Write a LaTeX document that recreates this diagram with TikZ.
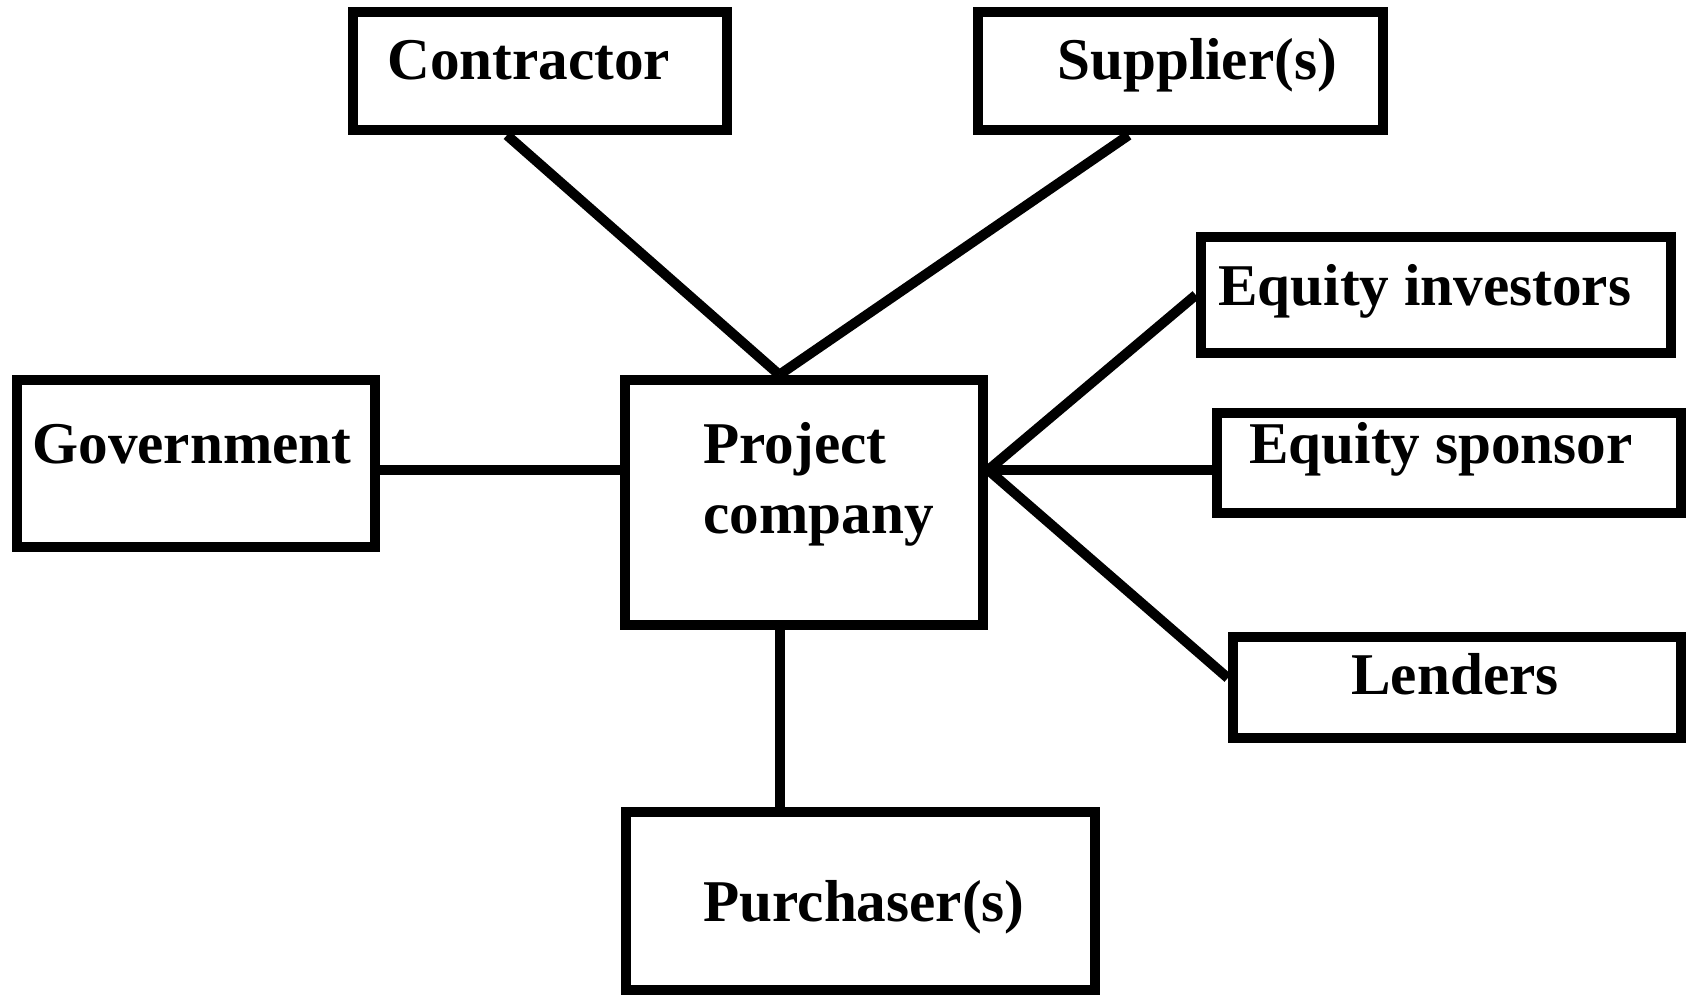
\documentclass[tikz,border=0pt]{standalone}
\usepackage{fontspec}
\setmainfont{Liberation Serif}
\usetikzlibrary{calc}
\tikzset{
  box/.style={draw=black, line width=5.2pt, rectangle, inner sep=0pt, fill=white},
  lbl/.style={anchor=base west, inner sep=0pt, font=\fontsize{29.6}{35}\selectfont\bfseries},
  link/.style={draw=black, line width=5pt}
}
\newcommand{\mybox}[5]{% name, x1, y1, x2, y2 (px)
  \node[box, minimum width={(#4-#2)*0.5pt}, minimum height={(#5-#3)*0.5pt}] (#1) at ({(#2+#4)/2},{(#3+#5)/2}) {};
}
\begin{document}
\begin{tikzpicture}[x=0.5pt,y=-0.5pt]
\useasboundingbox (0,0) rectangle (1686,996);
\coordinate (pright) at (983,470);
\coordinate (pleft) at (625,470);
\coordinate (pbottom) at (780,625);
\coordinate (lfoot) at (1233,678);
% boxes
\mybox{contractor}{353}{12}{727}{130}
\mybox{supplier}{978}{12}{1383}{130}
\mybox{investors}{1201}{237}{1671}{353}
\mybox{government}{17}{380}{375}{547}
\mybox{project}{625}{380}{983}{625}
\mybox{sponsor}{1217}{413}{1681}{513}
\mybox{lenders}{1233}{637}{1681}{738}
\mybox{purchaser}{626}{812}{1095}{990}
% texts
\node[lbl] (tcontractor) at (387,79) {Contractor};
\node[lbl] (tsupplier) at (1057,79) {Supplier(s)};
\node[lbl] (tinvestors) at (1218,305) {Equity investors};
\node[lbl] (tgovernment) at (32,463) {Government};
\node[lbl] (tproject) at (703,463) {Project};
\node[lbl] (tcompany) at (703,533) {company};
\node[lbl] (tsponsor) at (1249,463) {Equity sponsor};
\node[lbl] (tlenders) at (1351,694) {Lenders};
\node[lbl] (tpurchaser) at (703,921) {Purchaser(s)};
% connectors
\draw[link] ($(contractor.south west)!0.414!(contractor.south east)$) -- ($(project.north west)!0.433!(project.north east)$);
\draw[link] ($(supplier.south west)!0.375!(supplier.south east)$) -- ($(project.north west)!0.433!(project.north east)$);
\draw[link] (government.east |- pleft) -- (project.west |- pleft);
\draw[link] (project.east |- pright) -- (investors.west);
\draw[link] (project.east |- pright) -- (sponsor.west |- pright);
\draw[link] (project.east |- pright) -- (lenders.west |- lfoot);
\draw[link] (project.south -| pbottom) -- (purchaser.north -| pbottom);
\end{tikzpicture}
\end{document}
